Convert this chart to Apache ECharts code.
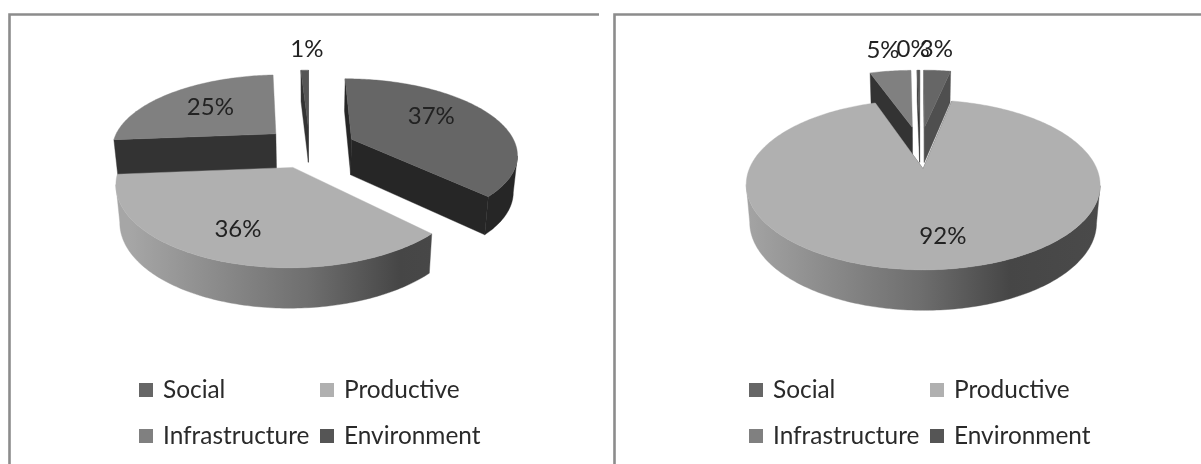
<!DOCTYPE html>
<html><head><meta charset="utf-8">
<style>html,body{margin:0;padding:0;background:#fff}#c{width:1201px;height:464px}</style>
<script src="https://cdn.jsdelivr.net/npm/echarts@6/dist/echarts.min.js"></script>
</head><body><div id="c"></div>
<script>
// ---- data ----
var categories = ['Social', 'Productive', 'Infrastructure', 'Environment'];
var leftValues = [37.49, 36.2, 25.4, 0.91];
var rightValues = [3.2, 91.6, 4.9, 0.3];

// ---- styles and layout ----
var topColors = ['#666666', '#b0b0b0', '#808080', '#555555'];
var paintOrder = [3, 4, 2, 1];           // back to front: draw order of each category
var FONT = 'Lato';
var K = 0.18, RX = 165, RY = 73.9, CY = 147, EXPLODE = 0.28;
var panels = [
  { values: leftValues, cx: 309.6, cutColors: ['#262626', '#444444', '#333333', '#333333'], wallFlat: ['#262626', null, '#333333', '#333333'],
    labels: [[0.55, 2, -9], [0.6, -13, 11], [0.6, 0, -1], [1.3, 3, -7]],
    legendCols: [139, 320] },
  { values: rightValues, cx: 920, cutColors: ['#4f4f4f', '#444444', '#333333', '#333333'], wallFlat: ['#4f4f4f', null, '#333333', '#333333'],
    labels: [[1.3, -4, -7], [0.6, 12, 12], [1.3, -2, -7], [1.3, -5, -7]],
    legendCols: [749, 930] }
];

function geometry(panel, idx) {
  var total = panel.values.reduce(function (a, b) { return a + b; }, 0), acc = 0;
  for (var i = 0; i < idx; i++) acc += panel.values[i];
  var a0 = acc / total * 360, a1 = (acc + panel.values[idx]) / total * 360, mid = (a0 + a1) / 2;
  var rad = Math.PI / 180;
  return { a0: a0, a1: a1, mid: mid, ex: EXPLODE * Math.sin(mid * rad), ey: EXPLODE * Math.cos(mid * rad) };
}
function topPt(panel, u, v) { var s = 1 + K * v; return [panel.cx + RX * u / s, CY - RY * v / s]; }
function botPt(panel, u, v) { var p = topPt(panel, u, v); return [panel.cx + (p[0] - panel.cx) * 0.98, p[1] + 36 - 3.5 * v]; }
function cross(a, b) { return a[0] * b[1] - a[1] * b[0]; }
function faceVisible(p, q, inner) {
  var e = [q[0] - p[0], q[1] - p[1]];
  return cross(e, [inner[0] - p[0], inner[1] - p[1]]) * cross(e, [0, 1]) < 0;
}
function poly(points, fill) {
  return { type: 'polygon', shape: { points: points }, style: { fill: fill, stroke: fill, lineWidth: 0.4 } };
}

function makeRender(panel, idx) {
  return function (params, api) {
    var value = api.value(0), g = geometry(panel, idx), rad = Math.PI / 180, children = [];
    var uv = [], steps = Math.max(1, Math.ceil(g.a1 - g.a0));
    for (var i = 0; i <= steps; i++) {
      var a = (g.a0 + (g.a1 - g.a0) * i / steps) * rad;
      uv.push([Math.sin(a) + g.ex, Math.cos(a) + g.ey]);
    }
    var tops = uv.map(function (d) { return topPt(panel, d[0], d[1]); });
    var bots = uv.map(function (d) { return botPt(panel, d[0], d[1]); });
    var apexT = topPt(panel, g.ex, g.ey), apexB = botPt(panel, g.ex, g.ey);
    var midArc = tops[Math.floor(steps / 2)];
    // cut faces
    [0, steps].forEach(function (k) {
      var inner = k === 0 ? tops[steps] : tops[0];
      if (steps < 2) inner = midArc;
      if (faceVisible(apexT, tops[k], inner)) {
        children.push(poly([apexT, tops[k], bots[k], apexB], panel.cutColors[idx]));
      }
    });
    // outer wall, visible runs only
    var fill = panel.wallFlat[idx] || new echarts.graphic.LinearGradient(panel.cx - 180, 0, panel.cx + 180, 0, [
      { offset: 0, color: '#a6a6a6' }, { offset: 0.5, color: '#6e6e6e' },
      { offset: 0.75, color: '#464646' }, { offset: 1, color: '#4a4a4a' }], true);
    var run = null;
    function flush() {
      if (run && run.length > 1) {
        var pts = run.map(function (k) { return tops[k]; }).concat(run.slice().reverse().map(function (k) { return bots[k]; }));
        children.push(poly(pts, fill));
      }
      run = null;
    }
    for (var s = 0; s < steps; s++) {
      if (faceVisible(tops[s], tops[s + 1], apexT)) { if (!run) run = [s]; run.push(s + 1); }
      else flush();
    }
    flush();
    children.push(poly([apexT].concat(tops), topColors[idx]));
    return { type: 'group', children: children };
  };
}

function makeLabelRender(panel) {
  return function (params, api) {
    var idx = params.dataIndex, value = api.value(0), g = geometry(panel, idx), rad = Math.PI / 180, c = panel.labels[idx];
    var p = topPt(panel, c[0] * Math.sin(g.mid * rad) + g.ex, c[0] * Math.cos(g.mid * rad) + g.ey);
    return { type: 'text', x: p[0] + c[1], y: p[1] + c[2],
      style: { text: Math.round(value) + '%', font: '24px ' + FONT, fill: '#222222', align: 'center', verticalAlign: 'middle' } };
  };
}

var series = [], legends = [];
panels.forEach(function (panel) {
  categories.forEach(function (name, idx) {
    series.push({ type: 'custom', name: name, coordinateSystem: 'none', z: 2 + paintOrder[idx], silent: true,
      itemStyle: { color: topColors[idx] }, data: [[panel.values[idx]]], renderItem: makeRender(panel, idx) });
  });
  series.push({ type: 'custom', name: 'labels', coordinateSystem: 'none', z: 20, silent: true,
    data: panel.values.map(function (v) { return [v]; }), renderItem: makeLabelRender(panel) });
  [[categories[0], categories[2]], [categories[1], categories[3]]].forEach(function (col, ci) {
    legends.push({ orient: 'vertical', left: panel.legendCols[ci], top: 378, itemWidth: 14, itemHeight: 14, itemGap: 22, padding: 0,
      icon: 'rect', selectedMode: false, data: col,
      textStyle: { fontFamily: FONT, fontSize: 24.4, color: '#2a2a2a', padding: [0, 0, 0, 5] } });
  });
});

var chart = echarts.init(document.getElementById('c'), null, { renderer: 'canvas' });
chart.setOption({
  animation: false,
  backgroundColor: '#ffffff',
  legend: legends,
  series: series,
  graphic: [
    { type: 'polyline', shape: { points: [[9.5, 464], [9.5, 14.5], [599, 14.5]] }, style: { stroke: '#8c8c8c', lineWidth: 2.6, fill: null } },
    { type: 'polyline', shape: { points: [[614.5, 464], [614.5, 14.5], [1201, 14.5]] }, style: { stroke: '#8c8c8c', lineWidth: 2.6, fill: null } }
  ]
});
</script></body></html>
